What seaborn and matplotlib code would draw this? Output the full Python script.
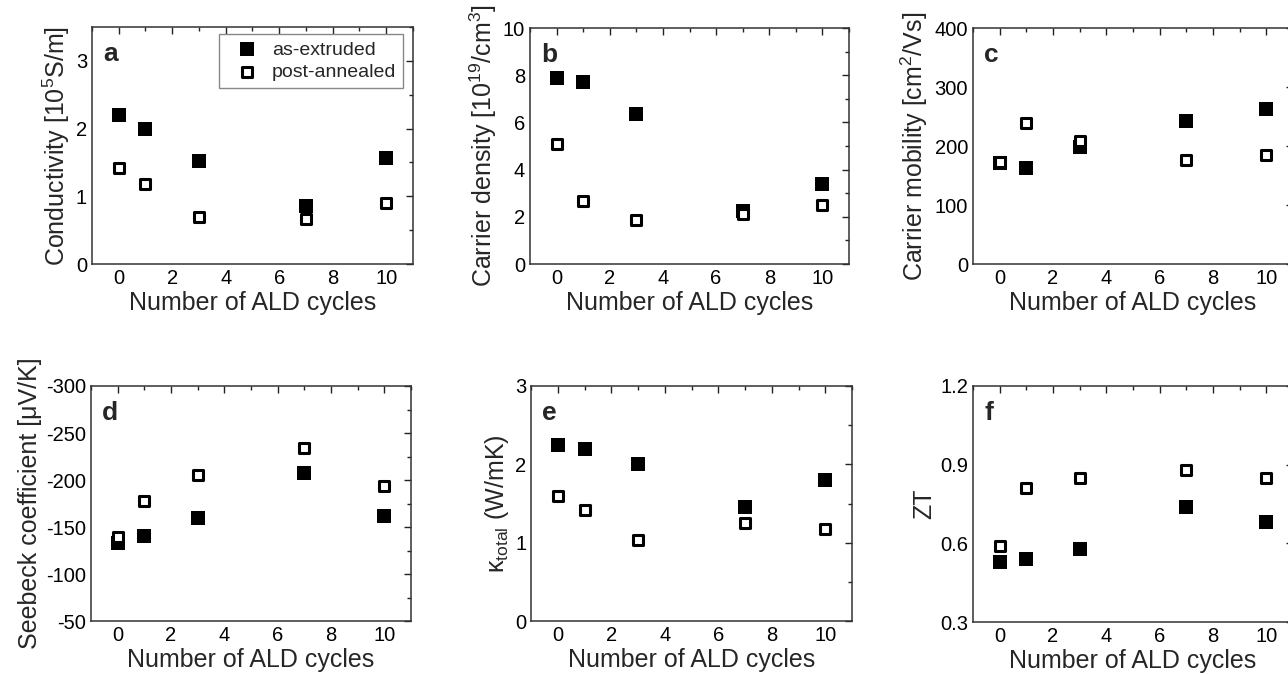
import matplotlib
matplotlib.use('Agg')
import numpy as np
import matplotlib.pyplot as plt
from matplotlib.ticker import MultipleLocator
import seaborn as sns

sns.set_style("white")
plt.rcParams['font.family'] = ['Liberation Sans', 'DejaVu Sans']
plt.rcParams['mathtext.default'] = 'regular'
plt.rcParams['axes.unicode_minus'] = False

# ==================== data ====================
cycles = [0, 1, 3, 7, 10]

cond_ext = [2.20, 2.00, 1.52, 0.85, 1.57]
cond_ann = [1.42, 1.18, 0.70, 0.67, 0.90]

dens_ext = [7.9, 7.7, 6.35, 2.25, 3.4]
dens_ann = [5.1, 2.65, 1.85, 2.1, 2.5]

mob_ext = [172, 162, 198, 242, 262]
mob_ann = [173, 239, 209, 176, 184]

seeb_ext = [-133, -140, -160, -207, -162]
seeb_ann = [-139, -178, -205, -234, -194]

kap_ext = [2.25, 2.20, 2.01, 1.46, 1.80]
kap_ann = [1.60, 1.42, 1.03, 1.25, 1.18]

zt_ext = [0.53, 0.54, 0.58, 0.74, 0.68]
zt_ann = [0.59, 0.81, 0.85, 0.88, 0.85]

panels = [
    # letter, ext, ann, ylabel, ylim, major, minor, axes rect
    ('a', cond_ext, cond_ann, 'Conductivity [10$^{5}$S/m]', (0, 3.5), 1, 0.5,
     [0.0714, 0.6083, 0.2492, 0.3516]),
    ('b', dens_ext, dens_ann, 'Carrier density [10$^{19}$/cm$^{3}$]', (0, 10), 2, 1,
     [0.4115, 0.6083, 0.2477, 0.3501]),
    ('c', mob_ext, mob_ann, 'Carrier mobility [cm$^{2}$/Vs]', (0, 400), 100, 50,
     [0.7554, 0.6083, 0.2484, 0.3501]),
    ('d', seeb_ext, seeb_ann, 'Seebeck coefficient [μV/K]', (-50, -300), 50, 25,
     [0.0707, 0.0786, 0.2484, 0.3487]),
    ('e', kap_ext, kap_ann, 'κ$_{total}$ (W/mK)', (0, 3), 1, 0.5,
     [0.4123, 0.0786, 0.2492, 0.3487]),
    ('f', zt_ext, zt_ann, 'ZT', (0.3, 1.2), 0.3, 0.15,
     [0.7554, 0.0771, 0.2484, 0.3502]),
]

fig = plt.figure(figsize=(12.88, 6.74), dpi=100)

for letter, ext, ann, ylabel, ylim, major, minor, rect in panels:
    ax = fig.add_axes(rect)
    sns.scatterplot(x=cycles, y=ext, marker='s', s=100, color='black',
                    linewidth=0, ax=ax, label='as-extruded', zorder=3)
    sns.scatterplot(x=cycles, y=ann, marker='s', s=58, color='white',
                    edgecolor='black', linewidth=2.2, ax=ax,
                    label='post-annealed', zorder=4)
    ax.set_xlim(-1, 11)
    ax.set_ylim(*ylim)
    ax.xaxis.set_major_locator(MultipleLocator(2))
    ax.xaxis.set_minor_locator(MultipleLocator(1))
    ax.yaxis.set_major_locator(MultipleLocator(major))
    ax.yaxis.set_minor_locator(MultipleLocator(minor))
    ax.tick_params(which='both', direction='in', top=True, right=True,
                   labelsize=14.5, colors='#222222', labelcolor='black')
    ax.tick_params(which='major', length=5, width=1)
    ax.tick_params(which='minor', length=3, width=1)
    for sp in ax.spines.values():
        sp.set_color('#333333')
        sp.set_linewidth(1.1)
    ax.set_xlabel('Number of ALD cycles', fontsize=18, labelpad=2)
    ax.set_ylabel(ylabel, fontsize=18, labelpad=3)
    ax.text(0.035, 0.935, letter, transform=ax.transAxes, fontsize=19,
            fontweight='bold', va='top', ha='left')
    if letter == 'a':
        ax.legend(loc='upper right', bbox_to_anchor=(0.97, 0.97),
                  borderaxespad=0, fontsize=14, frameon=True, fancybox=False,
                  edgecolor='#888888', framealpha=1, handletextpad=0.2,
                  handlelength=2.2, borderpad=0.35, labelspacing=0.25)
    else:
        ax.get_legend().remove()

plt.savefig('out.png', dpi=100)
plt.close()
